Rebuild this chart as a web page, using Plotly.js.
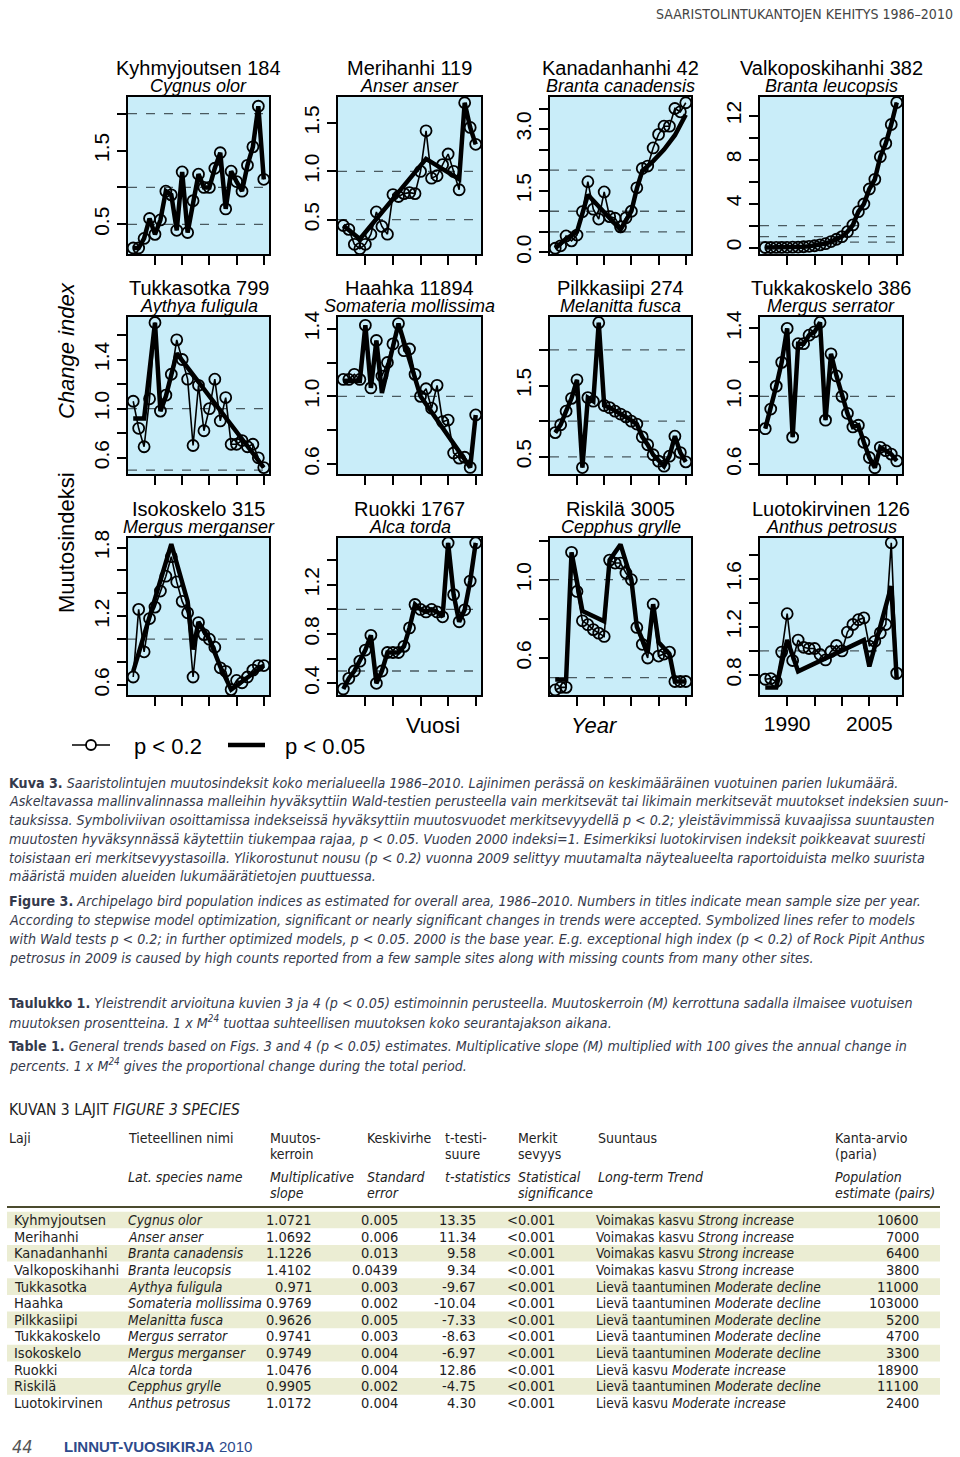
<!DOCTYPE html>
<html><head><meta charset="utf-8">
<script src="https://cdn.plot.ly/plotly-3.0.1.min.js"></script>
<style>html,body{margin:0;padding:0;background:#fff}#chart{width:960px;height:1457px}</style>
</head><body><div id="chart"></div>
<script>
// ---------- DATA ----------
const years = [1986,1987,1988,1989,1990,1991,1992,1993,1994,1995,1996,1997,1998,1999,2000,2001,2002,2003,2004,2005,2006,2007,2008,2009,2010];
const speciesFi = ['Kyhmyjoutsen','Merihanhi','Kanadanhanhi','Valkoposkihanhi','Tukkasotka','Haahka','Pilkkasiipi','Tukkakoskelo','Isokoskelo','Ruokki','Riskilä','Luotokirvinen'];
const sampleSize = [184,119,42,382,799,11894,274,386,315,1767,3005,126];
const speciesLat = ['Cygnus olor','Anser anser','Branta canadensis','Branta leucopsis','Aythya fuligula','Somateria mollissima','Melanitta fusca','Mergus serrator','Mergus merganser','Alca torda','Cepphus grylle','Anthus petrosus'];

// index, p < 0.2 models (symbol line)
const kyhmyjoutsen = [0.18,0.18,0.31,0.58,0.365,0.56,0.95,0.90,0.42,1.21,0.39,0.82,1.18,1.0,1.0,1.26,1.47,0.71,1.22,1.08,0.95,1.30,1.55,2.10,1.11];
const merihanhi = [0.44,0.40,0.245,0.20,0.245,0.35,0.58,0.43,0.35,0.76,0.74,0.77,0.78,0.77,1.0,1.42,0.93,0.955,1.07,1.18,1.0,0.81,1.71,1.455,1.28];
const kanadanhanhi = [0.10,0.16,0.40,0.28,0.42,0.99,1.72,1.05,0.81,1.47,0.87,0.83,0.62,0.84,1.0,1.57,2.04,2.10,2.54,2.87,3.07,3.07,3.50,3.42,3.64];
const valkoposkihanhi = [0.01,0.01,0.02,0.02,0.03,0.04,0.05,0.08,0.12,0.17,0.25,0.36,0.55,0.76,1.0,1.45,2.06,3.27,3.97,5.33,6.21,8.27,9.48,11.2,13.2];
const tukkasotka = [1.06,0.84,0.69,1.08,1.70,0.98,1.11,1.28,1.56,1.40,1.24,0.70,1.19,0.82,1.0,1.24,0.90,1.09,0.71,0.71,0.74,0.69,0.71,0.60,0.52];
const haahka = [1.10,1.10,1.13,1.10,1.42,1.05,1.33,1.12,1.20,1.31,1.43,1.27,1.28,1.13,1.0,1.045,0.93,1.065,0.85,0.86,0.665,0.635,0.64,0.58,0.89];
const pilkkasiipi = [0.84,0.95,1.14,1.32,1.58,0.35,1.33,1.28,2.38,1.22,1.19,1.14,1.10,1.06,1.0,0.96,0.78,0.67,0.53,0.44,0.37,0.51,0.79,0.56,0.43];
const tukkakoskelo = [0.81,0.925,1.06,1.20,1.40,0.76,1.31,1.31,1.36,1.38,1.435,0.86,1.25,1.12,1.0,0.90,0.82,0.83,0.73,0.64,0.58,0.70,0.68,0.66,0.62];
const isokoskelo = [0.67,1.26,0.89,1.18,1.28,1.42,1.55,1.72,1.50,1.33,1.23,0.67,1.145,1.04,1.0,0.93,0.75,0.72,0.56,0.64,0.62,0.67,0.73,0.77,0.77];
const ruokki = [0.354,0.44,0.50,0.58,0.67,0.79,0.40,0.50,0.65,0.65,0.65,0.70,0.85,1.04,1.0,0.98,1.0,0.98,0.94,1.54,1.12,0.90,0.997,1.23,1.54];
const riskila = [0.437,0.45,0.45,1.14,0.94,0.79,0.77,0.745,0.727,0.71,1.10,1.085,1.085,1.034,1.0,0.756,0.67,0.60,0.875,0.61,0.62,0.63,0.48,0.48,0.48];
const luotokirvinen = [0.764,0.77,0.745,0.99,1.31,0.92,1.09,1.03,1.02,1.02,0.97,0.925,0.995,1.045,1.0,1.157,1.22,1.26,1.275,1.04,1.08,1.15,1.22,1.90,0.815];

// p < 0.05 models (thick line), breakpoints
const merihanhiTrendYears = [1986,1989,2001,2007,2008,2009,2010];
const merihanhiTrend = [0.44,0.30,1.13,0.92,1.71,1.455,1.28];
const kanadanhanhiTrendYears = [1986,1988,1990,1991,1992,1998,1999,2000,2001,2002,2004,2006,2008,2010];
const kanadanhanhiTrend = [0.10,0.33,0.50,0.95,1.40,0.55,0.80,1.0,1.55,1.98,2.22,2.50,2.85,3.35];
const tukkasotkaTrendYears = [1986,1988,1990,1991,1992,1994,2010];
const tukkasotkaTrend = [0.92,0.92,1.70,0.98,1.10,1.45,0.52];
const haahkaTrendYears = [1986,1989,1990,1991,1992,1993,1996,2000,2009,2010];
const haahkaTrend = [1.09,1.09,1.42,1.05,1.33,1.02,1.43,1.0,0.58,0.89];
const isokoskeloTrendYears = [1986,1993,1996,1997,1998,2000,2002,2004,2010];
const isokoskeloTrend = [0.72,1.83,1.33,0.91,1.15,1.0,0.76,0.56,0.77];
const riskilaTrendYears = [1986,1988,1989,1991,1995,1996,1998,2000,2001,2003,2004,2005,2007,2008,2010];
const riskilaTrend = [0.49,0.49,1.14,0.84,0.787,1.10,1.18,1.0,0.76,0.63,0.875,0.68,0.62,0.48,0.48];
const luotokirvinenTrendYears = [1986,1988,1990,1992,2004,2005,2009,2010];
const luotokirvinenTrend = [0.695,0.695,1.09,0.83,1.09,0.87,1.54,0.76];

const symbolSeries = [kyhmyjoutsen,merihanhi,kanadanhanhi,valkoposkihanhi,tukkasotka,haahka,pilkkasiipi,tukkakoskelo,isokoskelo,ruokki,riskila,luotokirvinen];
const trendYears = [years,merihanhiTrendYears,kanadanhanhiTrendYears,years,tukkasotkaTrendYears,haahkaTrendYears,years,years,isokoskeloTrendYears,years,riskilaTrendYears,luotokirvinenTrendYears];
const trendSeries = [kyhmyjoutsen,merihanhiTrend,kanadanhanhiTrend,valkoposkihanhi,tukkasotkaTrend,haahkaTrend,pilkkasiipi,tukkakoskelo,isokoskeloTrend,ruokki,riskilaTrend,luotokirvinenTrend];

// y tick values and labels per panel
const yTickVals = [[0.5,1,1.5,2],[0.5,1,1.5],[0,0.5,1,1.5,2,2.5,3,3.5],[0,2,4,6,8,10,12],[0.6,0.8,1,1.2,1.4,1.6],[0.6,0.8,1,1.2,1.4],[0.5,1,1.5,2],[0.6,0.8,1,1.2,1.4],[0.6,0.8,1,1.2,1.4,1.6,1.8],[0.4,0.6,0.8,1,1.2,1.4],[0.6,0.8,1,1.2],[0.8,1,1.2,1.4,1.6,1.8]];
const yTickText = [['0.5',' ','1.5',' '],['0.5','1.0','1.5'],['0.0',' ',' ','1.5',' ',' ','3.0',' '],['0',' ','4',' ','8',' ','12'],['0.6',' ','1.0',' ','1.4',' '],['0.6',' ','1.0',' ','1.4'],['0.5',' ','1.5',' '],['0.6',' ','1.0',' ','1.4'],['0.6',' ',' ','1.2',' ',' ','1.8'],['0.4',' ','0.8',' ','1.2',' '],['0.6',' ','1.0',' '],['0.8',' ','1.2',' ','1.6',' ']];
const yRanges = [[0.099,2.225],[0.145,1.77],[-0.04,3.78],[-0.58,13.7],[0.468,1.746],[0.541,1.469],[0.26,2.46],[0.543,1.467],[0.513,1.883],[0.305,1.58],[0.411,1.213],[0.633,1.94]];
const xTickVals = [1990,1995,2000,2005,2010];
const xTickText = ['1990',' ',' ','2005',' '];
const refLines = [0.5,1,2];

// table
const tabSlope = ['1.0721','1.0692','1.1226','1.4102','0.971','0.9769','0.9626','0.9741','0.9749','1.0476','0.9905','1.0172'];
const tabSE = ['0.005','0.006','0.013','0.0439','0.003','0.002','0.005','0.003','0.004','0.004','0.002','0.004'];
const tabT = ['13.35','11.34','9.58','9.34','-9.67','-10.04','-7.33','-8.63','-6.97','12.86','-4.75','4.30'];
const tabSig = ['<0.001','<0.001','<0.001','<0.001','<0.001','<0.001','<0.001','<0.001','<0.001','<0.001','<0.001','<0.001'];
const tabTrendFi = ['Voimakas kasvu','Voimakas kasvu','Voimakas kasvu','Voimakas kasvu','Lievä taantuminen','Lievä taantuminen','Lievä taantuminen','Lievä taantuminen','Lievä taantuminen','Lievä kasvu','Lievä taantuminen','Lievä kasvu'];
const tabTrendEn = ['Strong increase','Strong increase','Strong increase','Strong increase','Moderate decline','Moderate decline','Moderate decline','Moderate decline','Moderate decline','Moderate increase','Moderate decline','Moderate increase'];
const tabPairs = ['10600','7000','6400','3800','11000','103000','5200','4700','3300','18900','11100','2400'];

// ---------- LAYOUT ----------
const W = 960, H = 1457;
const PX = p => p / W, PY = p => 1 - p / H;
const SANS = 'Liberation Sans, Arial, Helvetica, sans-serif';
const NARROW = 'DejaVu Sans Condensed, Liberation Sans Narrow, sans-serif';
const colsX = [[128,269],[338,481],[550,691],[760,902]];
const rowsY = [[97,254],[317,474],[538,695]];

const layout = {width:W, height:H, margin:{l:0,r:0,t:0,b:0}, paper_bgcolor:'#ffffff', plot_bgcolor:'#c9edf9',
  showlegend:false, annotations:[], shapes:[]};
const data = [];

function ann(text, px, py, o) {
  o = o || {};
  const font = Object.assign({family:NARROW, size:15, color:'#2a2a2a'}, o.font || {});
  const a = Object.assign({text:text, x:PX(px), y:PY(py), xref:'paper', yref:'paper', showarrow:false,
    xanchor:'left', yanchor:'middle'}, o);
  a.font = font;
  layout.annotations.push(a);
}

for (let i = 0; i < 12; i++) {
  const n = i + 1, s = n === 1 ? '' : String(n);
  const cx = colsX[i % 4], ry = rowsY[Math.floor(i / 4)];
  layout['xaxis' + s] = {domain:[PX(cx[0]), PX(cx[1])], range:[1985.04, 2010.96], anchor:'y' + s,
    showline:true, mirror:true, linecolor:'#000', linewidth:2, ticks:'outside', ticklen:9, tickwidth:2, tickcolor:'#000',
    tickvals:xTickVals, ticktext:xTickText, tickangle:0, showticklabels: i === 11, tickfont:{family:SANS, size:21, color:'#000'},
    showgrid:false, zeroline:false, fixedrange:true};
  layout['yaxis' + s] = {domain:[PY(ry[1]), PY(ry[0])], range:yRanges[i], anchor:'x' + s,
    showline:true, mirror:true, linecolor:'#000', linewidth:2, ticks:'outside', ticklen:9, tickwidth:2, tickcolor:'#000',
    tickvals:yTickVals[i], ticktext:yTickText[i], tickangle:-90, tickfont:{family:SANS, size:21, color:'#000'},
    showgrid:false, zeroline:false, fixedrange:true};
  refLines.forEach(v => {
    if (v > yRanges[i][0] && v < yRanges[i][1]) {
      layout.shapes.push({type:'line', xref:'x' + s + ' domain', yref:'y' + s, x0:0, x1:1, y0:v, y1:v,
        line:{color:'#4a5a60', width:1.3, dash:'dash'}, layer:'below'});
    }
  });
  data.push({x:trendYears[i], y:trendSeries[i], xaxis:'x' + s, yaxis:'y' + s, type:'scatter', mode:'lines',
    line:{color:'#000', width:4.5}, hoverinfo:'skip'});
  data.push({x:years, y:symbolSeries[i], xaxis:'x' + s, yaxis:'y' + s, type:'scatter', mode:'lines+markers',
    line:{color:'#000', width:1.6}, marker:{symbol:'circle-open', size:11, color:'#000', line:{width:1.8, color:'#000'}}});
  const mid = (cx[0] + cx[1]) / 2;
  ann(speciesFi[i] + ' ' + sampleSize[i], mid, ry[0] - 29, {xanchor:'center', font:{family:SANS, size:20, color:'#000'}});
  ann('<i>' + speciesLat[i] + '</i>', mid, ry[0] - 11, {xanchor:'center', font:{family:SANS, size:18, color:'#000'}});
}

// axis words & legend
ann('<i>Change index</i>', 66, 351, {xanchor:'center', textangle:-90, font:{family:SANS, size:22, color:'#000'}});
ann('Muutosindeksi', 66, 543, {xanchor:'center', textangle:-90, font:{family:SANS, size:22, color:'#000'}});
ann('Vuosi', 433, 725, {xanchor:'center', font:{family:SANS, size:22, color:'#000'}});
ann('<i>Year</i>', 594, 725, {xanchor:'center', font:{family:SANS, size:22, color:'#000'}});
ann('p < 0.2', 168, 746, {xanchor:'center', font:{family:SANS, size:22, color:'#000'}});
ann('p < 0.05', 325, 746, {xanchor:'center', font:{family:SANS, size:22, color:'#000'}});
layout.shapes.push({type:'line', xref:'paper', yref:'paper', x0:PX(72), x1:PX(110), y0:PY(745), y1:PY(745), line:{color:'#000', width:1.6}});
layout.shapes.push({type:'circle', xref:'paper', yref:'paper', x0:PX(86), x1:PX(96), y0:PY(750), y1:PY(740), fillcolor:'#fff', line:{color:'#000', width:1.8}});
layout.shapes.push({type:'line', xref:'paper', yref:'paper', x0:PX(228), x1:PX(265), y0:PY(745), y1:PY(745), line:{color:'#000', width:4.5}});

// page header / footer
ann('SAARISTOLINTUKANTOJEN KEHITYS 1986–2010', 955, 14, {xanchor:'right', font:{size:14, color:'#444'}});
ann('<i>44</i>', 10, 1446, {font:{size:18, color:'#555'}});
ann('<b>LINNUT-VUOSIKIRJA</b> 2010', 62, 1446, {font:{family:SANS, size:15, color:'#2d4a8c'}});

// captions
const CAP = {font:{size:14.15, color:'#353a4c'}};
const capLines = [
 [783,'<b>Kuva 3.</b> <i>Saaristolintujen muutosindeksit koko merialueella 1986–2010. Lajinimen perässä on keskimääräinen vuotuinen parien lukumäärä.</i>'],
 [801,'<i>Askeltavassa mallinvalinnassa malleihin hyväksyttiin Wald-testien perusteella vain merkitsevät tai likimain merkitsevät muutokset indeksien suun-</i>'],
 [820,'<i>tauksissa. Symboliviivan osoittamissa indekseissä hyväksyttiin muutosvuodet merkitsevyydellä p < 0.2; yleistävimmissä kuvaajissa suuntausten</i>'],
 [839,'<i>muutosten hyväksynnässä käytettiin tiukempaa rajaa, p < 0.05. Vuoden 2000 indeksi=1. Esimerkiksi luotokirvisen indeksit poikkeavat suuresti</i>'],
 [858,'<i>toisistaan eri merkitsevyystasoilla. Ylikorostunut nousu (p < 0.2) vuonna 2009 selittyy muutamalta näytealueelta raportoiduista melko suurista</i>'],
 [876,'<i>määristä muiden alueiden lukumäärätietojen puuttuessa.</i>'],
 [901,'<b>Figure 3.</b> <i>Archipelago bird population indices as estimated for overall area, 1986–2010. Numbers in titles indicate mean sample size per year.</i>'],
 [920,'<i>According to stepwise model optimization, significant or nearly significant changes in trends were accepted. Symbolized lines refer to models</i>'],
 [939,'<i>with Wald tests p < 0.2; in further optimized models, p < 0.05. 2000 is the base year. E.g. exceptional high index (p < 0.2) of Rock Pipit Anthus</i>'],
 [958,'<i>petrosus in 2009 is caused by high counts reported from a few sample sites along with missing counts from many other sites.</i>'],
 [1003,'<b>Taulukko 1.</b> <i>Yleistrendit arvioituna kuvien 3 ja 4 (p < 0.05) estimoinnin perusteella. Muutoskerroin (M) kerrottuna sadalla ilmaisee vuotuisen</i>'],
 [1022,'<i>muutoksen prosentteina. 1 x M<sup>24</sup> tuottaa suhteellisen muutoksen koko seurantajakson aikana.</i>'],
 [1046,'<b>Table 1.</b> <i>General trends based on Figs. 3 and 4 (p < 0.05) estimates. Multiplicative slope (M) multiplied with 100 gives the annual change in</i>'],
 [1065,'<i>percents. 1 x M<sup>24</sup> gives the proportional change during the total period.</i>']
];
capLines.forEach(l => ann(l[1], 7, l[0], CAP));

// table heading
const TH = {font:{size:14, color:'#222'}};
ann('KUVAN 3 LAJIT <i>FIGURE 3 SPECIES</i>', 7, 1110, {font:{size:15.5, color:'#1e1e1e'}});
const headFi1 = [[7,'Laji'],[126,'Tieteellinen nimi'],[268,'Muutos-'],[365,'Keskivirhe'],[443,'t-testi-'],[516,'Merkit'],[596,'Suuntaus'],[833,'Kanta-arvio']];
const headFi2 = [[268,'kerroin'],[443,'suure'],[516,'sevyys'],[833,'(paria)']];
const headEn1 = [[126,'Lat. species name'],[268,'Multiplicative'],[365,'Standard'],[443,'t-statistics'],[516,'Statistical'],[596,'Long-term Trend'],[833,'Population']];
const headEn2 = [[268,'slope'],[365,'error'],[516,'significance'],[833,'estimate (pairs)']];
headFi1.forEach(h => ann(h[1], h[0], 1138, TH));
headFi2.forEach(h => ann(h[1], h[0], 1154, TH));
headEn1.forEach(h => ann('<i>' + h[1] + '</i>', h[0], 1177, TH));
headEn2.forEach(h => ann('<i>' + h[1] + '</i>', h[0], 1193, TH));
layout.shapes.push({type:'line', xref:'paper', yref:'paper', x0:PX(7), x1:PX(940), y0:PY(1207), y1:PY(1207), line:{color:'#4b4b2e', width:2}});

const rowH = 16.64, row0 = 1220;
const TD = {font:{size:14.5, color:'#1e1e1e'}};
const TDR = {xanchor:'right', font:{size:14.5, color:'#1e1e1e'}};
for (let r = 0; r < 12; r++) {
  const yc = row0 + r * rowH;
  if (r % 2 === 0) layout.shapes.push({type:'rect', xref:'paper', yref:'paper', x0:PX(7), x1:PX(940), y0:PY(yc + rowH/2), y1:PY(yc - rowH/2), fillcolor:'#ebedd3', line:{width:0}, layer:'below'});
  ann(speciesFi[r], 12, yc, TD);
  ann('<i>' + speciesLat[r] + '</i>', 126, yc, {font:{size:13.8, color:'#1e1e1e'}});
  ann(tabSlope[r], 314, yc, TDR);
  ann(tabSE[r], 400, yc, TDR);
  ann(tabT[r], 478, yc, TDR);
  ann(tabSig[r], 557, yc, TDR);
  ann(tabTrendFi[r] + ' <i>' + tabTrendEn[r] + '</i>', 594, yc, {font:{size:13.6, color:'#1e1e1e'}});
  ann(tabPairs[r], 921, yc, TDR);
}

Plotly.newPlot('chart', data, layout, {staticPlot:true, displayModeBar:false});
</script></body></html>
